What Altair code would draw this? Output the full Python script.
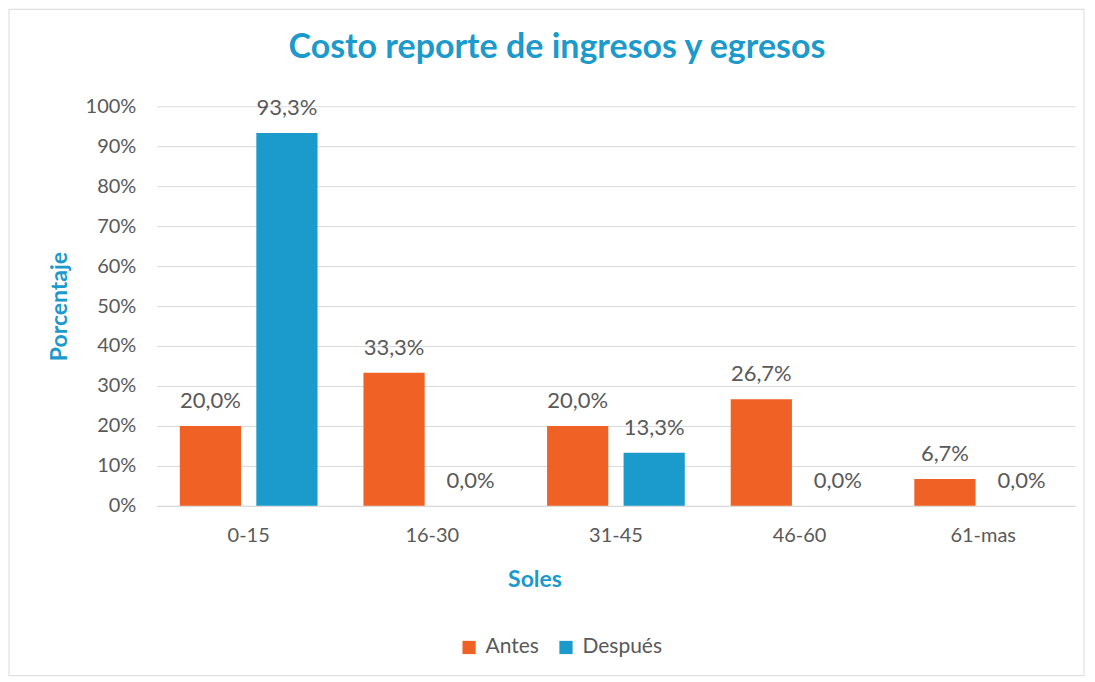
import altair as alt
import pandas as pd

categorias = ["0-15", "16-30", "31-45", "46-60", "61-mas"]
antes = [20.0, 33.3, 20.0, 26.7, 6.7]
despues = [93.3, 0.0, 13.3, 0.0, 0.0]
series = ["Antes", "Después"]
colores = ["#F06125", "#1B9BCB"]

rows = []
for i, c in enumerate(categorias):
    for s, vals in zip(series, [antes, despues]):
        v = vals[i]
        rows.append({"Soles": c, "Serie": s, "Valor": v,
                     "Etiqueta": f"{v:.1f}%".replace(".", ",")})
df = pd.DataFrame(rows)

FONT = "Lato"
GRAY = "#595959"
BLUE = "#1B9ACB"

x = alt.X("Soles:N", sort=categorias,
          scale=alt.Scale(paddingInner=0.25, paddingOuter=0.125),
          axis=alt.Axis(title="Soles", labelAngle=0, labelFontSize=20, labelColor=GRAY,
                        labelFont=FONT, labelPadding=20, ticks=False, domain=True,
                        domainColor="#d9d9d9", titleFontSize=23, titleColor=BLUE,
                        titleFont=FONT, titleFontWeight="bold", titlePadding=23,
                        titleX=378))
xo = alt.XOffset("Serie:N", sort=series, scale=alt.Scale(paddingInner=0.2, paddingOuter=0))
y = alt.Y("Valor:Q", scale=alt.Scale(domain=[0, 100]),
          axis=alt.Axis(title="Porcentaje", values=list(range(0, 101, 10)),
                        labelOverlap=False,
                        labelExpr="datum.value + '%'", labelFontSize=20, labelColor=GRAY,
                        labelFont=FONT, labelPadding=21, ticks=False, domain=False,
                        gridColor="#d9d9d9", gridWidth=1, titleFontSize=23, titleColor=BLUE,
                        titleFont=FONT, titleFontWeight="bold", titlePadding=14))
color = alt.Color("Serie:N", sort=series,
                  scale=alt.Scale(domain=series, range=colores),
                  legend=alt.Legend(title=None, orient="none", direction="horizontal",
                                    legendX=302, legendY=531, symbolType="square",
                                    symbolSize=175, symbolStrokeWidth=0, labelFontSize=21,
                                    labelColor=GRAY, labelFont=FONT, columnPadding=16,
                                    labelOffset=6))

bars = alt.Chart(df).mark_bar().encode(x=x, xOffset=xo, y=y, color=color)
labels = alt.Chart(df).mark_text(baseline="bottom", dy=-13, fontSize=22, font=FONT,
                                 color=GRAY).encode(
    x=x, xOffset=xo, y=y, text="Etiqueta:N")

frame = alt.Chart(pd.DataFrame({"a": [0]})).mark_rect(
    fill=None, stroke="#d9d9d9", strokeWidth=1).encode(
    x=alt.value(-148), x2=alt.value(928), y=alt.value(-97), y2=alt.value(570))

chart = alt.layer(frame, bars, labels).properties(
    width=919, height=400,
    autosize=alt.AutoSizeParams(type="none"),
    padding={"left": 149, "top": 98, "right": 12, "bottom": 174},
    title=alt.TitleParams("Costo reporte de ingresos y egresos", fontSize=34, font=FONT,
                          fontWeight="bold", color=BLUE, anchor="middle", dx=-59,
                          offset=-56),
).configure_view(stroke=None)

chart.save("out.html", embed_options={"renderer": "svg", "actions": False})
